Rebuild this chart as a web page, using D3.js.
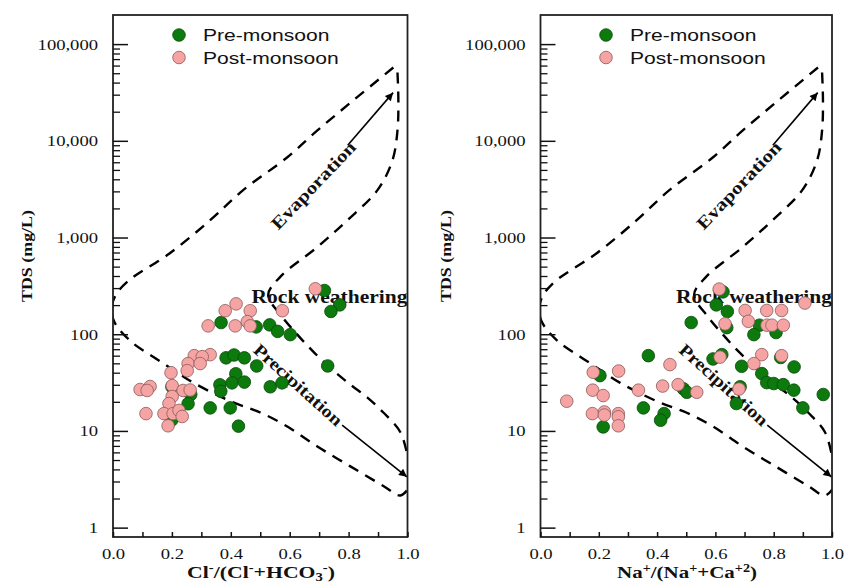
<!DOCTYPE html>
<html><head><meta charset="utf-8">
<script src="https://cdn.jsdelivr.net/npm/d3@7"></script>
<style>body{margin:0;background:#fff}</style>
</head><body><svg id="c" width="854" height="584"></svg>
<script>
// ---------- data ----------
const seriesNames = ["Pre-monsoon", "Post-monsoon"];
const yTickValues = [1, 10, 100, 1000, 10000, 100000];
const yTickLabels = ["1", "10", "100", "1,000", "10,000", "100,000"];
const xTickValues = [0, 0.1, 0.2, 0.3, 0.4, 0.5, 0.6, 0.7, 0.8, 0.9, 1.0];
const xTickLabels = ["0.0", "", "0.2", "", "0.4", "", "0.6", "", "0.8", "", "1.0"];

// Cl/(Cl+HCO3) vs TDS
const clPre = [[0.718,283],[0.770,201],[0.740,172],[0.367,132],[0.486,119],[0.532,125],[0.559,107],[0.602,99],
  [0.384,57],[0.411,61],[0.446,57],[0.488,47],[0.729,47],[0.417,39],[0.363,30],[0.404,31.4],[0.446,32],
  [0.366,25.7],[0.534,28.6],[0.574,31.4],[0.200,28.6],[0.264,23.8],[0.255,19.1],[0.330,17.3],[0.398,17.3],
  [0.200,13],[0.426,11.2]];
const clPost = [[0.687,295],[0.418,206],[0.381,175],[0.466,175],[0.575,175],[0.323,122],[0.415,122],[0.456,135],
  [0.466,122],[0.276,60],[0.330,61.5],[0.303,58.6],[0.255,49.7],[0.296,49.7],[0.252,42],[0.197,40],[0.126,28.8],
  [0.092,26.8],[0.116,26.2],[0.201,29.4],[0.238,26.2],[0.262,26.5],[0.201,22.7],[0.190,19.2],[0.112,15.1],
  [0.173,15.1],[0.204,15.1],[0.224,16.3],[0.235,14.1],[0.187,11.3]];

// Na/(Na+Ca) vs TDS
const naPre = [[0.626,274],[0.603,201],[0.641,172],[0.517,132],[0.639,117],[0.751,124],[0.808,104],[0.732,99],
  [0.370,60],[0.592,55.5],[0.622,61.5],[0.690,46.6],[0.824,57.5],[0.870,45.9],[0.759,39.2],[0.776,31.6],
  [0.800,30.9],[0.833,30.1],[0.869,26.4],[0.970,23.8],[0.900,17.3],[0.685,28.6],[0.490,27.3],[0.502,25.1],
  [0.672,19.2],[0.353,17.3],[0.424,15.1],[0.412,12.9],[0.204,37.3],[0.215,11.0]];
const naPost = [[0.613,293],[0.907,210],[0.702,176],[0.776,176],[0.827,176],[0.633,128],[0.713,136],[0.777,124],
  [0.794,124],[0.833,124],[0.616,58],[0.759,61.5],[0.827,60],[0.732,49.7],[0.181,40.4],[0.268,41.6],[0.444,48.5],
  [0.090,20.3],[0.179,26.4],[0.215,23.2],[0.336,26.4],[0.419,29.1],[0.472,30.1],[0.536,25.1],[0.681,27.1],
  [0.178,15.1],[0.219,15.7],[0.219,14.6],[0.267,15.1],[0.267,14.0],[0.267,11.3]];

// Gibbs boundary curves (ratio, TDS)
const outerBoundary = [[0.952,57300],[0.816,26200],[0.694,12800],[0.592,6760],[0.442,3090],[0.330,1510],
  [0.194,692],[0.048,348],[0.008,250],[-0.004,190],[0.004,135],[0.061,84],[0.136,58.6],[0.204,43],[0.272,31.6],
  [0.408,19.7],[0.500,15.5],[0.592,11.1],[0.694,6.9],[0.806,4.3],[0.918,2.7],[0.976,2.15],[1.01,2.7]];
const innerBoundary = [[0.966,50800],[0.969,26200],[0.966,12800],[0.949,6300],[0.898,3090],[0.796,1510],
  [0.694,798],[0.568,392],[0.527,255],[0.575,151],[0.626,99],[0.680,66],[0.745,43],[0.806,30.1],
  [0.864,22.1],[0.918,15.5],[0.976,9.7],[1.0,5.5]];
const evaporationArrow = [[0.797,9000],[0.951,31500]];
const precipitationArrow = [[0.778,11.5],[0.998,3.35]];

// ---------- drawing ----------
const svg = d3.select("#c");
const TOP = 15, BOTTOM = 537;
const SERIF = "'Liberation Serif','Times New Roman',serif";
const SANS = "'Liberation Sans',Arial,sans-serif";
const GREEN = "#0c7a0c", GREEN_S = "#0a4a0a", PINK = "#f5a3a3", PINK_S = "#8a5a5a";

const defs = svg.append("defs");
defs.append("marker")
  .attr("id","arr").attr("viewBox","0 0 10 10").attr("refX",10).attr("refY",5)
  .attr("markerWidth",11).attr("markerHeight",8).attr("markerUnits","userSpaceOnUse")
  .attr("orient","auto")
  .append("path").attr("d","M0,0 L10,5 L0,10 z").attr("fill","#000");

function stretchGroup(g, target) {
  const w = g.node().getBBox().width;
  return target / w;
}

const panels = [
  {x0:113, x1:407.5, pre:clPre, post:clPost, yTitleX:32, legendX:179, titleX:261,
   title:[["Cl",0],["-",1],["/(Cl",0],["-",1],["+HCO",0],["3",-1],["-",1],[")",0]], titleW:148},
  {x0:540.5, x1:832, pre:naPre, post:naPost, yTitleX:451, legendX:606, titleX:687,
   title:[["Na",0],["+",1],["/(Na",0],["+",1],["+Ca",0],["+2",1],[")",0]], titleW:140}
];

panels.forEach((p, pi) => {
  const x = d3.scaleLinear().domain([0,1]).range([p.x0, p.x1]);
  const y = d3.scaleLog().domain([0.8, 200000]).range([BOTTOM, TOP]);
  const g = svg.append("g");

  defs.append("clipPath").attr("id","clip"+pi).append("rect")
    .attr("x",p.x0).attr("y",TOP).attr("width",p.x1-p.x0).attr("height",BOTTOM-TOP);

  // boundary curves
  const line = d3.line().x(d => x(d[0])).y(d => y(d[1])).curve(d3.curveCatmullRom.alpha(0.5));
  const cg = g.append("g").attr("clip-path",`url(#clip${pi})`);
  [outerBoundary, innerBoundary].forEach(b => {
    cg.append("path").attr("d", line(b)).attr("fill","none").attr("stroke","#000")
      .attr("stroke-width",2.4).attr("stroke-dasharray","11,8");
  });

  // arrows
  [evaporationArrow, precipitationArrow].forEach(a => {
    g.append("line").attr("x1",x(a[0][0])).attr("y1",y(a[0][1]))
      .attr("x2",x(a[1][0])).attr("y2",y(a[1][1]))
      .attr("stroke","#000").attr("stroke-width",1.6).attr("marker-end","url(#arr)");
  });

  // annotations
  const ann = [
    {t:"Evaporation", cx:0.68, cy:3475, ang:-46.3, len:114},
    {t:"Precipitation", cx:0.629, cy:30.1, ang:42, len:113}
  ];
  ann.forEach(a => {
    g.append("text").attr("transform",`translate(${x(a.cx)},${y(a.cy)}) rotate(${a.ang})`)
      .attr("text-anchor","middle").attr("dy","0.35em")
      .attr("font-family",SERIF).attr("font-weight","bold").attr("font-size",17.5)
      .attr("textLength",a.len).attr("lengthAdjust","spacingAndGlyphs")
      .attr("fill","#111").text(a.t);
  });
  const rw = g.append("g");
  rw.append("text").attr("text-anchor","end").attr("font-family",SERIF).attr("font-weight","bold")
    .attr("font-size",18).attr("fill","#111").text("Rock weathering");
  const rs = stretchGroup(rw, 156);
  rw.attr("transform",`translate(${p.x1},${y(212)}) scale(${rs},1)`);

  // points
  const drawPts = (data, fill, stroke) => {
    g.append("g").selectAll("circle").data(data).join("circle")
      .attr("cx", d => x(d[0])).attr("cy", d => y(d[1])).attr("r", 6.3)
      .attr("fill", fill).attr("stroke", stroke).attr("stroke-width", 0.8);
  };
  drawPts(p.pre, GREEN, GREEN_S);
  drawPts(p.post, PINK, PINK_S);

  // frame
  g.append("rect").attr("x",p.x0).attr("y",TOP).attr("width",p.x1-p.x0).attr("height",BOTTOM-TOP)
    .attr("fill","none").attr("stroke","#222").attr("stroke-width",1.8);

  // y axis major
  const yAx = g.append("g").attr("transform",`translate(${p.x0},0)`)
    .call(d3.axisLeft(y).tickValues(yTickValues).tickSize(-15).tickPadding(15)
      .tickFormat((d,i) => yTickLabels[i]));
  // y minor ticks
  const minor = [];
  for (let e = 0; e < 5; e++) for (let m = 2; m <= 9; m++) minor.push(m * Math.pow(10, e));
  g.append("g").attr("transform",`translate(${p.x0},0)`)
    .call(d3.axisLeft(y).tickValues(minor).tickSize(-7).tickFormat(""))
    .call(s => s.select(".domain").remove())
    .selectAll("line").attr("stroke","#111").attr("stroke-width",1.3);
  yAx.select(".domain").remove();
  yAx.selectAll("line").attr("stroke","#111").attr("stroke-width",1.5);

  // x axis
  const xAx = g.append("g").attr("transform",`translate(0,${BOTTOM})`)
    .call(d3.axisBottom(x).tickValues(xTickValues).tickSize(-5).tickPadding(11)
      .tickFormat((d,i) => xTickLabels[i]));
  xAx.select(".domain").remove();
  xAx.selectAll("line").attr("stroke","#111").attr("stroke-width",1.5);

  [yAx, xAx].forEach(ax => {
    ax.selectAll("text").attr("font-family",SERIF).attr("font-size",15.5).attr("fill","#111")
      .each(function() {
        const t = d3.select(this);
        const tx = +t.attr("x") || 0;
        t.attr("x",0).attr("transform",`translate(${tx},0) scale(1.2,1)`);
      });
  });

  // y title
  g.append("text").attr("transform",`translate(${p.yTitleX},256) rotate(-90)`)
    .attr("text-anchor","middle").attr("font-family",SERIF).attr("font-weight","bold")
    .attr("font-size",15.5).attr("textLength",92).attr("lengthAdjust","spacingAndGlyphs")
    .attr("fill","#111").text("TDS (mg/L)");

  // x title
  const tg = g.append("g");
  const tt = tg.append("text").attr("text-anchor","middle").attr("font-family",SERIF)
    .attr("font-weight","bold").attr("font-size",17).attr("fill","#111");
  let cur = 0;
  p.title.forEach(([s, lvl]) => {
    const shift = lvl === 1 ? -6 : lvl === -1 ? 3 : 0;
    tt.append("tspan").attr("dy", shift - cur).attr("font-size", lvl ? 11.5 : 17).text(s);
    cur = shift;
  });
  const ts = stretchGroup(tg, p.titleW);
  tg.attr("transform",`translate(${p.titleX},578) scale(${ts},1)`);

  // legend
  seriesNames.forEach((name, i) => {
    const ly = 35 + i * 22.5;
    g.append("circle").attr("cx",p.legendX).attr("cy",ly).attr("r",6.3)
      .attr("fill", i ? PINK : GREEN).attr("stroke", i ? PINK_S : GREEN_S).attr("stroke-width",0.8);
    g.append("text").attr("transform",`translate(${p.legendX + 24},${ly + 6.3}) scale(1.24,1)`)
      .attr("font-family",SANS).attr("font-size",17).attr("fill","#111").text(name);
  });
});
</script></body></html>
